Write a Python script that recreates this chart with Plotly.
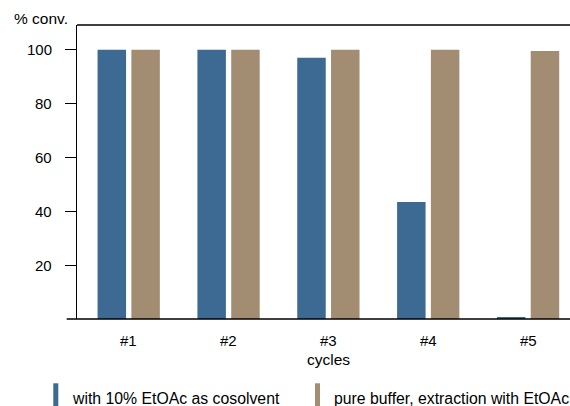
import plotly.graph_objects as go

cycles = ["#1", "#2", "#3", "#4", "#5"]
cosolvent = [100, 100, 97, 43.5, 0.6]
pure_buffer = [100, 100, 100, 100, 99.5]
series_names = ["with 10% EtOAc as cosolvent", "pure buffer, extraction with EtOAc"]
y_ticks = [20, 40, 60, 80, 100]

BLUE = "#3c6a92"
TAN = "#a28d73"
FONT = "Liberation Sans, Arial, sans-serif"

# plot area in pixels
L, R, T, B = 77, 570, 25, 319
PW, PH = R - L, B - T


def px_x(x):
    return (x - L) / PW


def px_y(y):
    return (B - y) / PH


fig = go.Figure()
fig.add_trace(go.Bar(x=cycles, y=cosolvent, name=series_names[0],
                     marker=dict(color=BLUE, line=dict(width=0))))
fig.add_trace(go.Bar(x=cycles, y=pure_buffer, name=series_names[1],
                     marker=dict(color=TAN, line=dict(width=0))))

fig.update_layout(
    width=570, height=406,
    margin=dict(l=L, r=570 - R, t=T, b=406 - B),
    plot_bgcolor="white", paper_bgcolor="white",
    barmode="group", bargap=0.323, bargroupgap=0.157,
    showlegend=False,
    font=dict(family=FONT, color="black", size=15),
)
fig.update_xaxes(
    type="category", range=[-0.518, 4.42],
    showline=False, showgrid=False, ticks="", showticklabels=False,
)
fig.update_yaxes(
    range=[0, 109.2], tickvals=y_ticks,
    showline=True, linecolor="black", linewidth=1.3,
    showgrid=False, zeroline=False,
    ticks="outside", ticklen=10.6, tickwidth=1.3, tickcolor="black",
    showticklabels=False,
)

# tick labels placed with a wider gap than plotly's default
for v in y_ticks:
    fig.add_annotation(text=str(v), xref="paper", yref="y", x=px_x(54), y=v,
                       xanchor="right", yanchor="middle", showarrow=False,
                       font=dict(size=15))
for c in cycles:
    fig.add_annotation(text=c, xref="x", yref="paper", x=c, y=px_y(340.5),
                       xanchor="center", yanchor="middle", showarrow=False,
                       font=dict(size=15))
fig.add_annotation(text="cycles", xref="paper", yref="paper", x=px_x(328.5), y=px_y(359),
                   xanchor="center", yanchor="middle", showarrow=False,
                   font=dict(size=15.5))

# frame: top edge and baseline (baseline runs past the y axis like a zero tick)
fig.add_shape(type="line", xref="paper", yref="paper", x0=0, x1=1, y0=1, y1=1,
              line=dict(color="black", width=1.3))
fig.add_shape(type="line", xref="paper", yref="paper", x0=px_x(66.7), x1=1, y0=0, y1=0,
              line=dict(color="black", width=1.3))

fig.add_annotation(text="% conv.", xref="paper", yref="paper", x=px_x(12), y=px_y(19),
                   xanchor="left", yanchor="middle", showarrow=False,
                   font=dict(size=15.5))

# legend drawn by hand: thin tall swatches followed by the series name
legend_x = [53.3, 315]
for name, color, lx in zip(series_names, [BLUE, TAN], legend_x):
    fig.add_shape(type="rect", xref="paper", yref="paper",
                  x0=px_x(lx), x1=px_x(lx + 5),
                  y0=px_y(410), y1=px_y(383.3),
                  fillcolor=color, line=dict(width=0))
    fig.add_annotation(text=name, xref="paper", yref="paper",
                       x=px_x(lx + 17), y=px_y(398.5),
                       xanchor="left", yanchor="middle", showarrow=False,
                       font=dict(size=15.8))

fig.write_html("out.html", config={"displayModeBar": False},
               post_script="document.body.style.margin='0';")
